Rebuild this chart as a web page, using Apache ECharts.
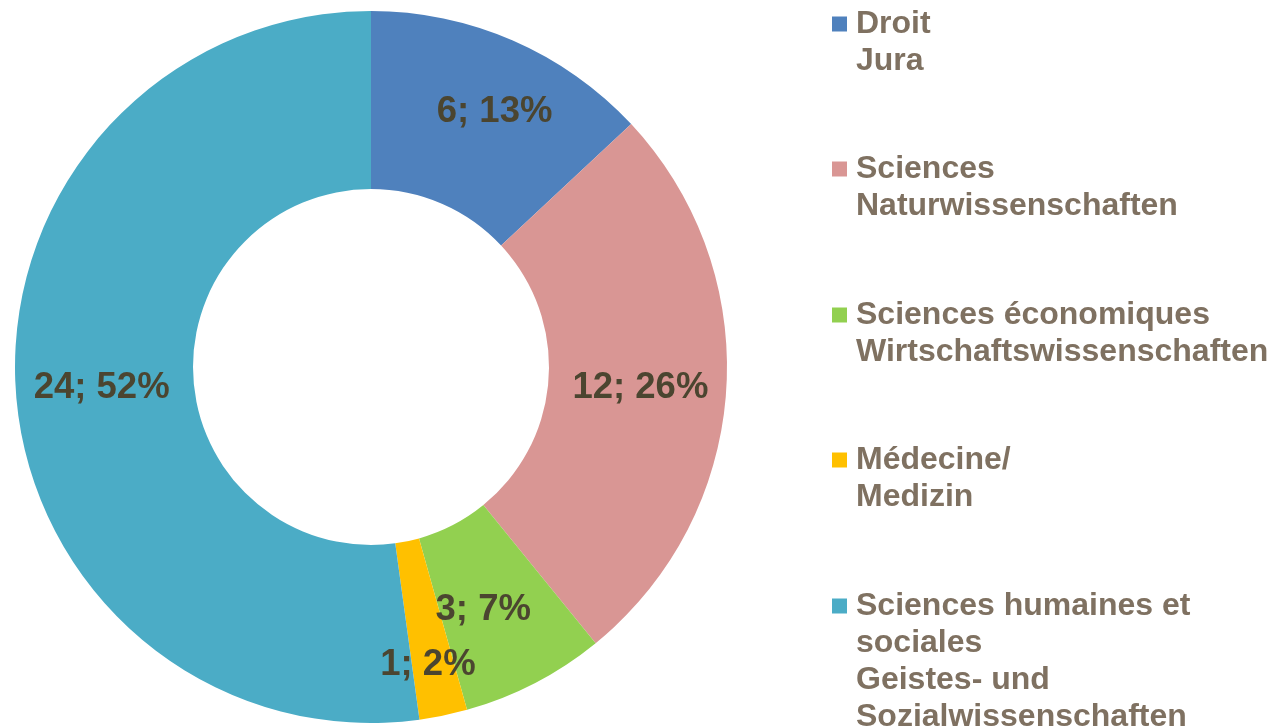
<!DOCTYPE html>
<html>
<head>
<meta charset="utf-8">
<script src="https://cdn.jsdelivr.net/npm/echarts@6/dist/echarts.min.js"></script>
<style>
html,body{margin:0;padding:0;background:#fff;}
#chart{width:1273px;height:727px;}
</style>
</head>
<body>
<div id="chart"></div>
<script>
const categories = [
  'Droit\nJura',
  'Sciences\nNaturwissenschaften',
  'Sciences économiques\nWirtschaftswissenschaften',
  'Médecine/\nMedizin',
  'Sciences humaines et\nsociales\nGeistes- und\nSozialwissenschaften'
];
const values = [6, 12, 3, 1, 24];
const colors = ['#4F81BD', '#D99694', '#92D050', '#FFC000', '#4BACC6'];
const labelShift = [[16, -7], [0, 3], [-12, 3], [2, 34], [0, 3]];
const legendFirstLine = [24, 169, 315, 460, 606];

const total = values.reduce((a, b) => a + b, 0);
const LH = 37;

const legends = categories.map((name, i) => {
  const n = name.split('\n').length;
  const pad = '\n'.repeat(n - 1);
  const h = (2 * n - 1) * LH;
  return {
    data: [name],
    orient: 'vertical',
    left: 832,
    top: legendFirstLine[i] - h / 2,
    padding: 0,
    icon: 'rect',
    itemWidth: 15,
    itemHeight: 15,
    selectedMode: false,
    formatter: () => pad + name,
    textStyle: {
      fontFamily: 'Liberation Sans, Arial, sans-serif',
      fontWeight: 'bold',
      fontSize: 32,
      lineHeight: LH,
      color: '#7F7161',
      padding: [0, 0, 0, 4]
    }
  };
});

const chart = echarts.init(document.getElementById('chart'), null, {renderer: 'canvas'});
chart.setOption({
  animation: false,
  color: colors,
  legend: legends,
  series: [{
    type: 'pie',
    center: [371, 367],
    radius: [178, 356],
    startAngle: 90,
    clockwise: true,
    avoidLabelOverlap: false,
    itemStyle: {borderWidth: 0},
    label: {
      show: true,
      position: 'inside',
      formatter: p => p.value + '; ' + Math.round(p.value / total * 100) + '%',
      fontFamily: 'Liberation Sans, Arial, sans-serif',
      fontWeight: 'bold',
      fontSize: 36.5,
      color: '#4B4530'
    },
    labelLine: {show: false},
    labelLayout: p => ({dx: labelShift[p.dataIndex][0], dy: labelShift[p.dataIndex][1]}),
    emphasis: {disabled: true},
    data: categories.map((name, i) => ({name: name, value: values[i]}))
  }]
});
</script>
</body>
</html>
